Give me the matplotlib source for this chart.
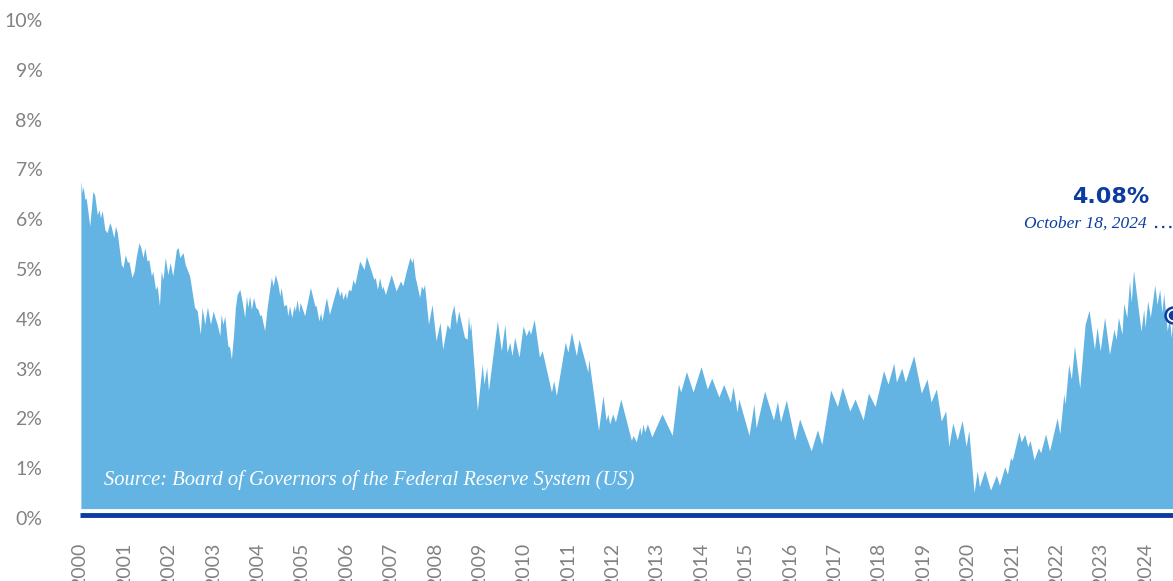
import matplotlib
matplotlib.use("Agg")
import matplotlib.pyplot as plt
import numpy as np

# 10-year treasury yield (decimal year, percent)
years = [
    2000.02, 2000.05, 2000.07, 2000.11, 2000.14, 2000.22, 2000.29, 2000.33, 2000.39, 2000.43,
    2000.46, 2000.50, 2000.56, 2000.61, 2000.67, 2000.70, 2000.76, 2000.80, 2000.84, 2000.93,
    2000.97, 2001.02, 2001.07, 2001.10, 2001.17, 2001.22, 2001.27, 2001.33, 2001.37, 2001.42,
    2001.46, 2001.51, 2001.55, 2001.61, 2001.64, 2001.70, 2001.74, 2001.79, 2001.83, 2001.87,
    2001.92, 2001.98, 2002.03, 2002.09, 2002.17, 2002.21, 2002.25, 2002.32, 2002.37, 2002.47,
    2002.58, 2002.64, 2002.71, 2002.75, 2002.81, 2002.87, 2002.94, 2003.00, 2003.03, 2003.09,
    2003.15, 2003.18, 2003.22, 2003.26, 2003.33, 2003.37, 2003.41, 2003.46, 2003.50, 2003.54,
    2003.60, 2003.65, 2003.71, 2003.75, 2003.78, 2003.82, 2003.86, 2003.91, 2003.96, 2004.01,
    2004.05, 2004.08, 2004.16, 2004.22, 2004.31, 2004.35, 2004.40, 2004.46, 2004.50, 2004.53,
    2004.59, 2004.65, 2004.68, 2004.72, 2004.77, 2004.82, 2004.85, 2004.89, 2004.93, 2004.96,
    2005.06, 2005.19, 2005.29, 2005.32, 2005.38, 2005.42, 2005.45, 2005.55, 2005.62, 2005.74,
    2005.80, 2005.85, 2005.89, 2005.92, 2005.98, 2006.00, 2006.05, 2006.10, 2006.15, 2006.19,
    2006.30, 2006.40, 2006.45, 2006.56, 2006.62, 2006.65, 2006.70, 2006.75, 2006.80, 2006.82,
    2006.88, 2007.01, 2007.12, 2007.22, 2007.27, 2007.35, 2007.43, 2007.48, 2007.50, 2007.55,
    2007.57, 2007.65, 2007.69, 2007.73, 2007.76, 2007.85, 2007.93, 2008.02, 2008.11, 2008.17,
    2008.27, 2008.33, 2008.36, 2008.42, 2008.48, 2008.53, 2008.66, 2008.72, 2008.75, 2008.78,
    2008.80, 2008.95, 2009.06, 2009.10, 2009.16, 2009.20, 2009.40, 2009.49, 2009.57, 2009.62,
    2009.68, 2009.73, 2009.79, 2009.89, 2009.98, 2010.05, 2010.11, 2010.15, 2010.23, 2010.35,
    2010.41, 2010.62, 2010.67, 2010.73, 2010.93, 2010.99, 2011.07, 2011.18, 2011.24, 2011.44,
    2011.46, 2011.68, 2011.78, 2011.85, 2011.89, 2011.93, 2012.00, 2012.06, 2012.12, 2012.18,
    2012.42, 2012.46, 2012.53, 2012.61, 2012.64, 2012.68, 2012.72, 2012.78, 2012.88, 2013.11,
    2013.34, 2013.48, 2013.53, 2013.66, 2013.81, 2013.99, 2014.13, 2014.23, 2014.39, 2014.50,
    2014.65, 2014.71, 2014.80, 2014.84, 2015.07, 2015.18, 2015.23, 2015.42, 2015.62, 2015.71,
    2015.78, 2015.91, 2016.10, 2016.21, 2016.47, 2016.61, 2016.71, 2016.91, 2017.06, 2017.17,
    2017.34, 2017.46, 2017.64, 2017.76, 2017.91, 2018.10, 2018.20, 2018.33, 2018.39, 2018.51,
    2018.59, 2018.78, 2018.95, 2019.08, 2019.17, 2019.29, 2019.40, 2019.50, 2019.57, 2019.66,
    2019.76, 2019.87, 2019.96, 2020.02, 2020.14, 2020.21, 2020.26, 2020.38, 2020.51, 2020.64,
    2020.71, 2020.83, 2020.89, 2020.96, 2021.00, 2021.15, 2021.20, 2021.28, 2021.35, 2021.40,
    2021.49, 2021.59, 2021.64, 2021.75, 2021.84, 2022.01, 2022.07, 2022.16, 2022.19, 2022.27,
    2022.33, 2022.40, 2022.52, 2022.64, 2022.73, 2022.85, 2022.91, 2022.98, 2023.08, 2023.19,
    2023.29, 2023.34, 2023.39, 2023.47, 2023.51, 2023.58, 2023.64, 2023.68, 2023.73, 2023.90,
    2023.96, 2023.99, 2024.05, 2024.11, 2024.21, 2024.26, 2024.32, 2024.37, 2024.41, 2024.49,
    2024.54, 2024.58, 2024.62,
]
yields = [
    6.77, 6.53, 6.66, 6.40, 6.42, 5.86, 6.56, 6.49, 6.09, 6.19,
    6.03, 6.17, 5.79, 5.73, 5.93, 5.86, 5.63, 5.86, 5.73, 5.09,
    5.03, 5.29, 5.13, 5.16, 4.83, 4.96, 5.26, 5.53, 5.43, 5.23,
    5.43, 5.16, 5.19, 4.86, 4.96, 4.59, 4.66, 4.26, 4.96, 4.79,
    5.23, 4.89, 5.13, 4.86, 5.39, 5.43, 5.23, 5.33, 5.09, 4.86,
    4.23, 4.16, 3.69, 4.23, 3.89, 4.24, 3.89, 4.16, 4.06, 3.89,
    3.66, 4.09, 3.89, 4.06, 3.46, 3.43, 3.19, 3.69, 4.23, 4.49,
    4.59, 4.36, 4.03, 4.46, 4.23, 4.46, 4.19, 4.43, 4.23, 4.19,
    4.06, 4.09, 3.76, 4.26, 4.83, 4.66, 4.89, 4.69, 4.46, 4.63,
    4.26, 4.29, 4.06, 4.26, 4.03, 4.26, 4.16, 4.39, 4.13, 4.33,
    4.06, 4.63, 4.26, 4.26, 3.96, 4.13, 3.96, 4.43, 4.09, 4.49,
    4.66, 4.46, 4.56, 4.39, 4.53, 4.39, 4.59, 4.56, 4.79, 4.69,
    5.16, 4.99, 5.26, 4.96, 4.79, 4.83, 4.59, 4.83, 4.59, 4.66,
    4.49, 4.89, 4.56, 4.76, 4.66, 4.96, 5.23, 5.13, 5.23, 4.83,
    4.76, 4.43, 4.66, 4.59, 4.69, 3.89, 4.29, 3.56, 3.93, 3.39,
    3.89, 3.79, 4.06, 4.28, 3.89, 4.16, 3.63, 3.59, 4.06, 3.76,
    3.93, 2.16, 3.09, 2.69, 3.03, 2.56, 3.96, 3.36, 3.89, 3.33,
    3.53, 3.26, 3.63, 3.23, 3.86, 3.66, 3.79, 3.69, 3.99, 3.23,
    3.36, 2.53, 2.76, 2.46, 3.53, 3.33, 3.73, 3.26, 3.59, 2.93,
    3.19, 1.76, 2.46, 1.96, 2.09, 1.89, 2.09, 1.93, 2.16, 2.39,
    1.56, 1.66, 1.53, 1.83, 1.66, 1.89, 1.73, 1.89, 1.63, 2.09,
    1.66, 2.69, 2.53, 2.94, 2.53, 3.04, 2.59, 2.81, 2.43, 2.68,
    2.33, 2.64, 2.13, 2.39, 1.66, 2.29, 1.81, 2.55, 1.97, 2.34,
    1.93, 2.37, 1.57, 1.99, 1.35, 1.77, 1.48, 2.57, 2.24, 2.63,
    2.15, 2.39, 1.97, 2.51, 2.24, 2.96, 2.69, 3.11, 2.73, 3.01,
    2.73, 3.26, 2.51, 2.79, 2.33, 2.59, 1.95, 2.15, 1.44, 1.91,
    1.57, 1.96, 1.44, 1.76, 0.51, 0.95, 0.63, 0.96, 0.56, 0.86,
    0.66, 1.03, 0.88, 1.21, 1.16, 1.73, 1.53, 1.68, 1.43, 1.56,
    1.17, 1.41, 1.31, 1.69, 1.35, 2.01, 1.69, 2.49, 2.29, 3.09,
    2.79, 3.46, 2.61, 3.89, 4.17, 3.39, 3.83, 3.36, 4.03, 3.29,
    3.79, 3.59, 4.03, 3.69, 4.31, 4.03, 4.76, 4.33, 4.97, 3.75,
    4.19, 3.83, 4.36, 4.03, 4.68, 4.29, 4.59, 4.13, 4.51, 3.76,
    4.03, 3.62, 4.08,
]
tick_years = list(range(2000, 2025))
y_ticks = list(range(0, 11))

last_label = "4.08%"
last_date = "October 18, 2024"
source = "Source: Board of Governors of the Federal Reserve System (US)"

area_col = "#63b3e3"
navy = "#0c3c9f"
grey = "#828282"

fig = plt.figure(figsize=(11.73, 5.81), dpi=100)
ax = fig.add_axes([80 / 1173, 50.5 / 581, 1 - 80 / 1173, 510.5 / 581])

ax.fill_between(years, yields, 0.19, color=area_col, lw=0)
ax.axhline(0.06, color=navy, lw=3.5, solid_capstyle="butt")

ax.set_xlim(2000, years[-1])
ax.set_ylim(-0.25, 10)

ax.set_xticks(tick_years)
ax.set_xticklabels([str(y) for y in tick_years], rotation=90,
                   fontsize=14, color=grey, family="Lato")
ax.set_yticks(y_ticks)
ax.set_yticklabels([f"{v}%" for v in y_ticks],
                   fontsize=14, color=grey, family="Lato")
ax.tick_params(axis="x", length=0, pad=9)
ax.tick_params(axis="y", length=0, pad=27)
for s in ax.spines.values():
    s.set_visible(False)

ax.text(2000.55, 0.76, source, color="white", fontsize=14.8,
        family="Liberation Serif", style="italic", va="center", ha="left")

# end-point marker and callout
ax.scatter([years[-1]], [yields[-1]], s=130, facecolor="white", edgecolor=navy,
           lw=1.8, zorder=5, clip_on=False)
ax.scatter([years[-1]], [yields[-1]], s=35, color=navy, zorder=6, clip_on=False)
ax.plot([years[-1] - 0.4, years[-1]], [5.84, 5.84], color=navy, lw=1.6,
        ls=(0, (1, 2.2)), clip_on=False)
ax.text(years[-1] - 1.4, 6.44, last_label, color=navy, fontsize=16,
        family="DejaVu Sans", fontweight="bold", ha="center", va="center")
ax.text(years[-1] - 0.59, 5.92, last_date, color=navy, fontsize=12.5,
        family="Liberation Serif", style="italic", ha="right", va="center")

fig.savefig("out.png", dpi=100)
